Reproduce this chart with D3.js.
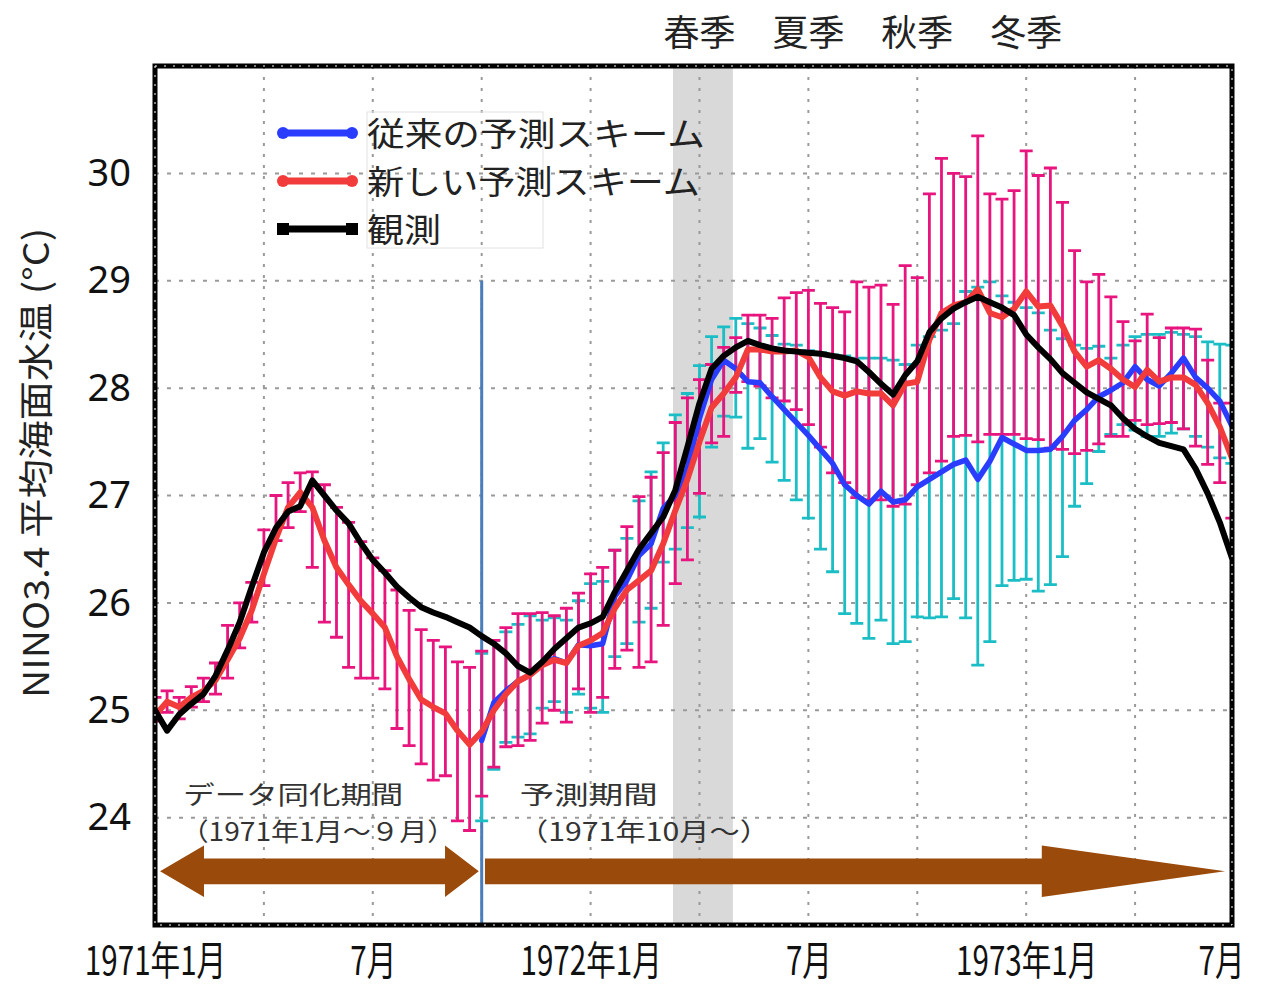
<!DOCTYPE html>
<html>
<head>
<meta charset="utf-8">
<script src="https://cdn.jsdelivr.net/npm/d3@7"></script>
<style>
  body { margin: 0; background: #fff; }
  svg { display: block; }
</style>
</head>
<body>
<svg width="1262" height="987"></svg>
<script>
// Time axis: months since Jan 1971, three points (dekads) per month
const dekads = d3.range(90).map((k) => k / 3);
const forecastStart = 27; // first dekad of the forecast period (Oct 1971)

// Observed NINO3.4 SST
const obs = [25.00,24.81,24.96,25.06,25.15,25.32,25.56,25.82,26.15,26.47,
  26.70,26.85,26.90,27.14,27.00,26.86,26.74,26.56,26.40,26.28,
  26.15,26.05,25.96,25.91,25.87,25.82,25.77,25.69,25.62,25.53,
  25.41,25.35,25.45,25.57,25.67,25.77,25.81,25.87,26.10,26.30,
  26.50,26.65,26.80,27.05,27.45,27.86,28.18,28.30,28.38,28.44,
  28.40,28.37,28.35,28.34,28.33,28.32,28.30,28.28,28.25,28.15,
  28.04,27.94,28.12,28.25,28.52,28.65,28.74,28.80,28.85,28.80,
  28.75,28.68,28.50,28.38,28.27,28.14,28.05,27.96,27.90,27.84,
  27.72,27.62,27.55,27.49,27.46,27.43,27.25,27.02,26.75,26.42];

// New scheme: ensemble mean and spread
const newMean = [24.95,25.08,25.03,25.12,25.18,25.28,25.47,25.67,25.93,26.27,
  26.60,26.89,27.03,26.89,26.58,26.33,26.17,26.02,25.90,25.77,
  25.50,25.29,25.10,25.03,24.97,24.81,24.68,24.80,25.00,25.15,
  25.27,25.33,25.42,25.47,25.44,25.60,25.65,25.72,25.95,26.12,
  26.21,26.30,26.55,26.86,27.15,27.50,27.82,27.95,28.10,28.36,
  28.36,28.34,28.34,28.35,28.29,28.10,27.97,27.93,27.97,27.95,
  27.95,27.84,28.04,28.06,28.45,28.70,28.77,28.80,28.92,28.70,
  28.66,28.74,28.90,28.76,28.77,28.58,28.34,28.20,28.26,28.18,
  28.08,28.01,28.17,28.06,28.10,28.10,28.03,27.86,27.64,27.35];
const newHi = [25.12,25.18,25.12,25.22,25.30,25.44,25.79,26.00,26.19,26.68,
  27.00,27.12,27.21,27.22,27.10,26.89,26.75,26.57,26.42,26.30,
  26.12,25.93,25.75,25.65,25.59,25.45,25.40,25.55,25.65,25.77,
  25.90,25.90,25.91,25.88,25.95,26.09,26.27,26.33,26.49,26.71,
  26.99,27.17,27.40,27.68,27.91,28.08,28.22,28.38,28.47,28.68,
  28.68,28.65,28.84,28.89,28.91,28.79,28.75,28.71,28.99,28.94,
  28.96,28.78,29.14,29.03,29.81,30.14,30.00,29.97,30.35,29.81,
  29.76,29.84,30.21,29.98,30.05,29.73,29.28,28.99,29.06,28.85,
  28.62,28.44,28.69,28.47,28.56,28.56,28.55,28.26,27.86,27.86];
const newLo = [24.90,24.98,24.92,25.03,25.08,25.15,25.30,25.58,25.82,26.16,
  26.58,26.70,26.85,26.33,25.82,25.68,25.40,25.30,25.30,25.20,
  24.83,24.67,24.50,24.35,24.39,23.97,23.88,24.20,24.47,24.66,
  24.67,24.72,24.88,25.00,24.89,25.20,24.98,25.12,25.39,25.56,
  25.40,25.45,25.79,26.18,26.40,27.02,27.49,27.55,27.96,28.06,
  28.02,27.91,27.88,27.80,27.66,27.45,27.21,27.12,26.98,26.96,
  26.96,26.90,26.92,27.10,27.21,27.32,27.55,27.56,27.50,27.57,
  27.57,27.57,27.53,27.52,27.44,27.43,27.39,27.42,27.48,27.55,
  27.55,27.70,27.66,27.67,27.68,27.62,27.46,27.29,27.12,26.79];

// Conventional scheme (forecast period only, from dekad 27)
const oldMean = [24.72,25.07,25.18,25.27,25.33,25.44,25.48,25.44,25.61,25.60,
  25.62,26.06,26.21,26.44,26.55,26.88,27.00,27.25,27.72,28.08,
  28.26,28.18,28.06,28.05,27.92,27.80,27.68,27.56,27.43,27.30,
  27.10,27.00,26.92,27.04,26.94,26.96,27.08,27.15,27.22,27.29,
  27.33,27.15,27.32,27.54,27.48,27.42,27.42,27.43,27.55,27.70,
  27.80,27.92,27.98,28.05,28.20,28.08,28.02,28.14,28.28,28.10,
  28.00,27.88,27.65];
const oldHi = [25.53,25.65,25.73,25.80,25.88,25.84,25.86,25.84,26.02,26.18,
  26.20,26.49,26.60,26.95,27.22,27.49,27.75,27.95,28.21,28.48,
  28.57,28.65,28.60,28.56,28.49,28.41,28.40,28.35,28.33,28.31,
  28.30,28.28,28.28,28.28,28.26,28.22,28.40,28.48,28.54,28.60,
  28.90,28.94,28.99,28.86,28.80,28.75,28.70,28.54,28.46,28.40,
  28.37,28.39,28.28,28.40,28.48,28.50,28.50,28.52,28.50,28.48,
  28.43,28.41,28.40];
const oldLo = [23.97,24.45,24.70,24.75,24.78,25.02,25.08,24.98,25.15,25.02,
  24.98,25.50,25.62,25.82,25.95,26.38,26.50,26.70,26.80,27.45,
  27.74,27.73,27.44,27.53,27.31,27.14,26.96,26.79,26.50,26.29,
  25.90,25.81,25.67,25.84,25.62,25.64,25.87,25.86,25.87,26.04,
  25.86,25.42,25.64,26.16,26.21,26.22,26.11,26.17,26.43,26.90,
  27.11,27.41,27.57,27.66,27.61,27.55,27.55,27.58,27.62,27.55,
  27.45,27.35,27.30];

// Axis ticks
const xTicks = [0, 6, 12, 18, 24, 30];
const xTickLabels = ["1971年1月", "7月", "1972年1月", "7月", "1973年1月", "7月"];
const yTicks = [24, 25, 26, 27, 28, 29, 30];
const xGrid = [3, 6, 9, 12, 15, 18, 21, 24, 27];
const seasons = ["春季", "夏季", "秋季", "冬季"];
const seasonMonths = [15, 18, 21, 24];
const band = [14.27, 15.92];

const cjk = "'Noto Sans CJK JP', 'Noto Sans', sans-serif";
const svg = d3.select("svg");
svg.append("rect").attr("width", 1262).attr("height", 987).attr("fill", "#fff");

const x = d3.scaleLinear().domain([0, 29.67]).range([155, 1232]);
const y = d3.scaleLinear().domain([23, 31]).range([925, 66]);

svg.append("clipPath").attr("id", "plot")
  .append("rect").attr("x", 155).attr("y", 66).attr("width", 1077).attr("height", 859);

const plot = svg.append("g").attr("clip-path", "url(#plot)");

// Grey band
plot.append("rect")
  .attr("x", x(band[0])).attr("width", x(band[1]) - x(band[0]))
  .attr("y", 66).attr("height", 859)
  .attr("fill", "#d9d9d9");

// Grid lines
plot.selectAll(".xg").data(xGrid).enter().append("line")
  .attr("x1", (d) => x(d)).attr("x2", (d) => x(d))
  .attr("y1", 66).attr("y2", 925)
  .attr("stroke", "#9a9a9a").attr("stroke-width", 2).attr("stroke-dasharray", "3,8");
plot.selectAll(".yg").data(yTicks).enter().append("line")
  .attr("x1", 155).attr("x2", 1232)
  .attr("y1", (d) => y(d)).attr("y2", (d) => y(d))
  .attr("stroke", "#9a9a9a").attr("stroke-width", 2).attr("stroke-dasharray", "4,8");

// Period arrows (in month / degree units)
const arrowY = 23.5, shaftH = 0.12, headH = 0.24;
const brown = "#9a4a0a";
function arrowPath(pts) {
  return "M" + pts.map((p) => `${x(p[0])},${y(p[1])}`).join("L") + "Z";
}
plot.append("path").attr("fill", brown).attr("d", arrowPath([
  [0.14, arrowY], [1.35, arrowY + headH], [1.35, arrowY + shaftH], [7.99, arrowY + shaftH],
  [7.99, arrowY + headH], [8.92, arrowY], [7.99, arrowY - headH], [7.99, arrowY - shaftH],
  [1.35, arrowY - shaftH], [1.35, arrowY - headH]
]));
plot.append("path").attr("fill", brown).attr("d", arrowPath([
  [9.09, arrowY + shaftH], [24.43, arrowY + shaftH], [24.43, arrowY + headH], [29.48, arrowY],
  [24.43, arrowY - headH], [24.43, arrowY - shaftH], [9.09, arrowY - shaftH]
]));

// Annotation texts
const notes = [
  { t: "データ同化期間", m: 0.78, v: 24.13, w: 220 },
  { t: "（1971年1月～９月）", m: 0.7, v: 23.78, w: 275 },
  { t: "予測期間", m: 10.05, v: 24.13, w: 138 },
  { t: "（1971年10月～）", m: 10.0, v: 23.78, w: 252 }
];
plot.selectAll(".note").data(notes).enter().append("text")
  .attr("x", (d) => x(d.m)).attr("y", (d) => y(d.v))
  .attr("textLength", (d) => d.w).attr("lengthAdjust", "spacingAndGlyphs")
  .attr("font-family", cjk).attr("font-size", 25).attr("fill", "#333")
  .text((d) => d.t);

// Forecast start line
plot.append("line")
  .attr("x1", x(9)).attr("x2", x(9)).attr("y1", y(29)).attr("y2", 925)
  .attr("stroke", "#4a7ebb").attr("stroke-width", 3);

// Error bars
function errorBars(cls, xs, lo, hi, color) {
  const g = plot.append("g").attr("stroke", color).attr("stroke-width", 2.8);
  const d = xs.map((m, i) => ({ m, lo: lo[i], hi: hi[i] }));
  g.selectAll("." + cls).data(d).enter().append("path")
    .attr("fill", "none")
    .attr("d", (p) => {
      const cx = x(p.m), yl = y(p.lo), yh = y(p.hi);
      return `M${cx - 6.5},${yh}H${cx + 6.5}M${cx},${yh}V${yl}M${cx - 6.5},${yl}H${cx + 6.5}`;
    });
}
const forecastX = dekads.slice(forecastStart);
errorBars("cy", forecastX, oldLo, oldHi, "#1cbec6");
errorBars("mg", dekads, newLo, newHi, "#e8157f");

// Lines
const line = d3.line().x((d) => x(d[0])).y((d) => y(d[1]));
function drawLine(xs, vals, color, w) {
  plot.append("path")
    .datum(xs.map((m, i) => [m, vals[i]]))
    .attr("fill", "none").attr("stroke", color).attr("stroke-width", w)
    .attr("stroke-linejoin", "round").attr("stroke-linecap", "round")
    .attr("d", line);
}
drawLine(forecastX, oldMean, "#2a3cff", 5.5);
drawLine(dekads, newMean, "#f23b3b", 6);
drawLine(dekads, obs, "#000", 6);

// Plot border
svg.append("rect").attr("x", 155).attr("y", 66).attr("width", 1077).attr("height", 859)
  .attr("fill", "none").attr("stroke", "#000").attr("stroke-width", 5);
svg.append("rect").attr("x", 155).attr("y", 66).attr("width", 1077).attr("height", 859)
  .attr("fill", "none").attr("stroke", "#fff").attr("stroke-width", 1).attr("stroke-dasharray", "2,7");

// Axes
const xAxis = svg.append("g").attr("transform", "translate(0,925)")
  .call(d3.axisBottom(x).tickValues(xTicks).tickSize(0).tickPadding(22)
    .tickFormat((d, i) => xTickLabels[i]));
xAxis.select(".domain").remove();
xAxis.selectAll("text")
  .attr("font-family", cjk).attr("font-size", 40).attr("fill", "#111")
  .attr("transform", "scale(0.74,1)")
  .attr("text-anchor", (d) => (d === 30 ? "end" : "middle"));

const yAxis = svg.append("g").attr("transform", "translate(155,0)")
  .call(d3.axisLeft(y).tickValues(yTicks).tickSize(0).tickPadding(24));
yAxis.select(".domain").remove();
yAxis.selectAll("text")
  .attr("font-family", "'Noto Sans', sans-serif").attr("font-size", 38).attr("fill", "#111");

// Y axis title
svg.append("text")
  .attr("transform", "translate(49,463) rotate(-90)")
  .attr("text-anchor", "middle")
  .attr("textLength", 470).attr("lengthAdjust", "spacingAndGlyphs")
  .attr("font-family", cjk).attr("font-size", 35).attr("fill", "#222")
  .text("NINO3.4 平均海面水温 (°C)");

// Season labels
svg.selectAll(".season").data(seasons).enter().append("text")
  .attr("x", (d, i) => x(seasonMonths[i])).attr("y", 46)
  .attr("text-anchor", "middle")
  .attr("font-family", cjk).attr("font-size", 36).attr("fill", "#222")
  .text((d) => d);

// Legend
const legendItems = [
  { label: "従来の予測スキーム", color: "#2a3cff", marker: "circle", w: 338 },
  { label: "新しい予測スキーム", color: "#f23b3b", marker: "circle", w: 333 },
  { label: "観測", color: "#000", marker: "square", w: 74 }
];
svg.append("rect").attr("x", 367).attr("y", 112).attr("width", 176).attr("height", 136)
  .attr("fill", "none").attr("stroke", "#e2e2e2").attr("stroke-width", 1);
const legend = svg.selectAll(".leg").data(legendItems).enter().append("g")
  .attr("transform", (d, i) => `translate(0,${133 + i * 48})`);
legend.append("line").attr("x1", 283).attr("x2", 352)
  .attr("stroke", (d) => d.color).attr("stroke-width", 7);
legend.each(function (d) {
  const g = d3.select(this);
  [283, 352].forEach((cx) => {
    if (d.marker === "circle") {
      g.append("circle").attr("cx", cx).attr("r", 6).attr("fill", d.color);
    } else {
      g.append("rect").attr("x", cx - 6).attr("y", -6).attr("width", 12).attr("height", 12)
        .attr("fill", d.color);
    }
  });
});
legend.append("text").attr("x", 367).attr("y", 13)
  .attr("textLength", (d) => d.w).attr("lengthAdjust", "spacingAndGlyphs")
  .attr("font-family", cjk).attr("font-size", 33).attr("fill", "#222")
  .text((d) => d.label);
</script>
</body>
</html>
